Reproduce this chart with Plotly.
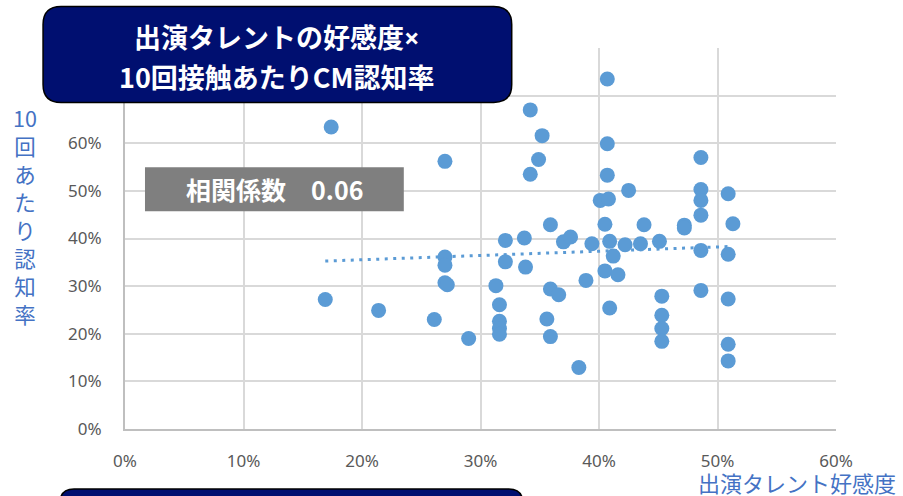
import numpy as np
import plotly.graph_objects as go

# タレント好感度 (x) と 10回接触あたりCM認知率 (y), 単位は%
favorability = [
    17.4, 16.9, 21.4, 26.1, 27.0, 27.0, 27.0, 27.0, 27.2, 29.0,
    31.3, 31.6, 31.6, 31.6, 31.6, 32.1, 32.1, 33.7, 33.8, 34.2,
    35.2, 34.9, 34.2, 35.9, 35.9, 36.6, 35.6, 35.9, 37.0, 37.6,
    38.3, 38.9, 39.4, 40.1, 40.8, 40.7, 40.7, 40.7, 40.5, 40.9,
    41.2, 40.5, 41.6, 40.9, 42.5, 42.2, 43.5, 43.8, 45.1, 45.3,
    45.3, 45.3, 45.3, 47.2, 47.2, 48.6, 48.6, 48.6, 48.6, 48.6,
    48.6, 50.9, 51.3, 50.9, 50.9, 50.9, 50.9,
]
recognition = [
    63.4, 27.2, 24.9, 23.0, 56.2, 36.1, 34.4, 30.7, 30.3, 19.0,
    30.1, 26.1, 22.6, 21.1, 19.9, 39.6, 35.1, 40.1, 34.0, 67.0,
    61.6, 56.6, 53.5, 42.9, 29.4, 28.2, 23.1, 19.4, 39.3, 40.3,
    12.9, 31.2, 38.9, 48.0, 48.3, 73.5, 59.9, 53.3, 43.0, 39.4,
    36.3, 33.2, 32.4, 25.4, 50.1, 38.7, 38.9, 42.9, 39.4, 27.9,
    23.9, 21.1, 18.4, 42.8, 42.2, 57.0, 50.3, 48.0, 44.9, 37.5,
    29.1, 49.4, 43.1, 36.7, 27.3, 17.8, 14.3,
]
x_ticks = [0, 0.1, 0.2, 0.3, 0.4, 0.5, 0.6]
x_tick_labels = ["0%", "10%", "20%", "30%", "40%", "50%", "60%"]
y_ticks = [0, 0.1, 0.2, 0.3, 0.4, 0.5, 0.6, 0.7, 0.8]
y_tick_labels = ["0%", "10%", "20%", "30%", "40%", "50%", "60%", "", ""]

title_lines = ["出演タレントの好感度×", "10回接触あたりCM認知率"]
corr_label = "相関係数　0.06"
x_title = "出演タレント好感度"
y_title = "10回あたり認知率"

xs = np.array(favorability) / 100
ys = np.array(recognition) / 100

# 線形近似 (最小二乗)
slope, intercept = np.polyfit(xs, ys, 1)
trend_x = np.array([xs.min(), xs.max()])
trend_y = slope * trend_x + intercept

W, H = 903, 496
L, R, T, B = 125, 836.5, 47.5, 429  # plot area in pixels


def px(xpix):
    return (xpix - L) / (R - L)


def py(ypix):
    return (B - ypix) / (B - T)


def rounded_box(x0, y0, x1, y1, r):
    """SVG path (paper coords) for a box with rounded corners."""
    rx = r / (R - L)
    ry = r / (B - T)
    a0, a1 = px(x0), px(x1)
    b0, b1 = py(y0), py(y1)  # b0 = top, b1 = bottom
    return (
        f"M {a0 + rx},{b0} L {a1 - rx},{b0} Q {a1},{b0} {a1},{b0 - ry} "
        f"L {a1},{b1 + ry} Q {a1},{b1} {a1 - rx},{b1} "
        f"L {a0 + rx},{b1} Q {a0},{b1} {a0},{b1 + ry} "
        f"L {a0},{b0 - ry} Q {a0},{b0} {a0 + rx},{b0} Z"
    )


NAVY = "#000F70"
DOT_BLUE = "#5B9BD5"
TEXT_BLUE = "#4472C4"
JP = "Noto Sans CJK JP"
LATIN = "Noto Sans, Noto Sans CJK JP"

# the multiplication sign is set in a Latin face, slightly smaller
title_first = title_lines[0].replace(
    "×", "<span style='font-family:Noto Sans;font-size:27px'>×</span>")

fig = go.Figure()

fig.add_trace(go.Scatter(
    x=trend_x, y=trend_y, mode="lines",
    line=dict(color=DOT_BLUE, width=3, dash="3px,5.5px"),
    hoverinfo="skip",
))
fig.add_trace(go.Scatter(
    x=xs, y=ys, mode="markers",
    marker=dict(color=DOT_BLUE, size=15, line=dict(width=0)),
))

shapes = [
    # title box
    dict(type="path", xref="paper", yref="paper",
         path=rounded_box(43, 6, 512, 102, 18),
         fillcolor=NAVY, line=dict(color="#000000", width=1.5), layer="above"),
    # correlation box
    dict(type="rect", xref="paper", yref="paper",
         x0=px(145), x1=px(404), y0=py(211), y1=py(167),
         fillcolor="#7F7F7F", line=dict(width=0), layer="above"),
    # lower box (continues below the page)
    dict(type="path", xref="paper", yref="paper",
         path=rounded_box(60, 489, 523, 560, 14),
         fillcolor=NAVY, line=dict(color="#000000", width=1.5), layer="above"),
]

annotations = [
    dict(text=title_first, x=px(277), y=py(36), xref="paper", yref="paper",
         showarrow=False, xanchor="center", yanchor="middle",
         font=dict(family=JP, size=27, color="white", weight="bold")),
    dict(text=title_lines[1], x=px(277), y=py(76), xref="paper", yref="paper",
         showarrow=False, xanchor="center", yanchor="middle",
         font=dict(family=JP, size=27, color="white", weight="bold")),
    dict(text=corr_label, x=px(274.5), y=py(189), xref="paper", yref="paper",
         showarrow=False, xanchor="center", yanchor="middle",
         font=dict(family=JP, size=25, color="white", weight="bold")),
    dict(text="<br>".join(["10"] + list(y_title[2:])), x=px(25), y=py(215),
         xref="paper", yref="paper", showarrow=False,
         xanchor="center", yanchor="middle", align="center",
         font=dict(family=JP, size=21.5, color=TEXT_BLUE)),
    dict(text=x_title, x=px(899), y=py(482), xref="paper", yref="paper",
         showarrow=False, xanchor="right", yanchor="middle",
         font=dict(family=JP, size=22, color=TEXT_BLUE)),
]

fig.update_layout(
    width=W, height=H, autosize=False,
    margin=dict(l=L, r=W - R, t=T, b=H - B, pad=0),
    paper_bgcolor="white", plot_bgcolor="white",
    showlegend=False,
    shapes=shapes, annotations=annotations,
    font=dict(family=LATIN),
)
fig.update_xaxes(
    range=[0, 0.6], tickvals=x_ticks, ticktext=x_tick_labels,
    showgrid=True, gridcolor="#D9D9D9", gridwidth=1.5,
    showline=True, linecolor="#BFBFBF", linewidth=2,
    zeroline=False, ticks="", ticklabelstandoff=16,
    tickfont=dict(family=LATIN, size=17, color="#595959"),
    automargin=False,
)
fig.update_yaxes(
    range=[0, 0.8], tickvals=y_ticks, ticktext=y_tick_labels,
    showgrid=True, gridcolor="#D9D9D9", gridwidth=1.5,
    showline=True, linecolor="#BFBFBF", linewidth=2,
    zeroline=False, ticks="", ticklabelstandoff=18,
    tickfont=dict(family=LATIN, size=17, color="#595959"),
    automargin=False,
)

fig.write_html("out.html")
